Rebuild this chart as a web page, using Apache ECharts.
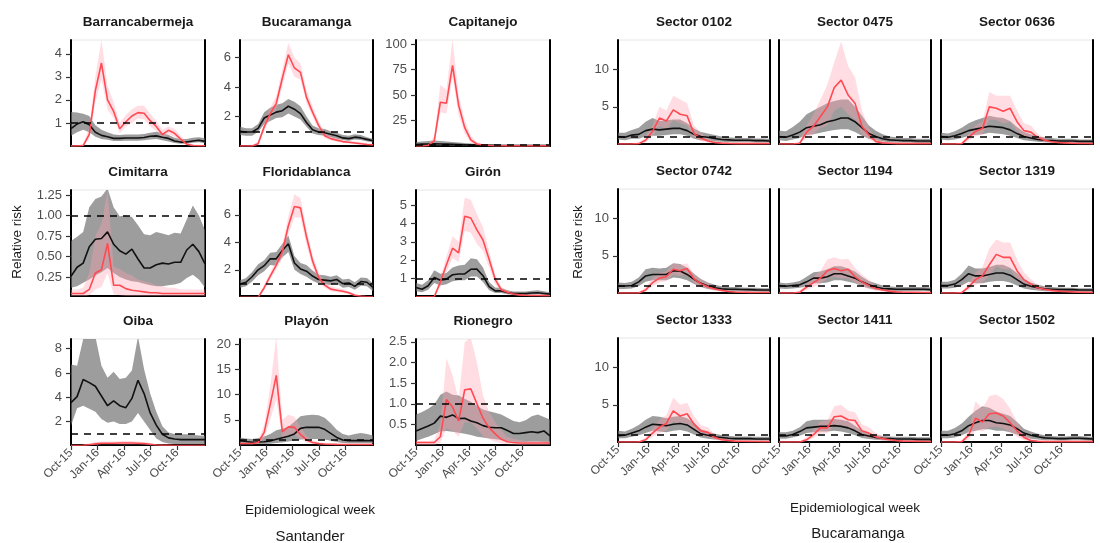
<!DOCTYPE html>
<html>
<head>
<meta charset="utf-8">
<script src="https://cdn.jsdelivr.net/npm/echarts/dist/echarts.min.js"></script>
<style>
    html, body { margin: 0; padding: 0; background: #fff; }
    #chart { width: 1100px; height: 543px; }
</style>
</head>
<body>
<div id="chart"></div>
<script>
// weeks since 1 Oct 2015, one value every 3 weeks
const weeks = [0, 3, 6, 9, 12, 15, 18, 21, 24, 27, 30, 33, 36, 39, 42, 45, 48, 51, 54, 57, 60, 63, 66];
const quarterWeeks = [0, 13.14, 26.14, 39.14, 52.29];
const quarterLabels = ['Oct-15', 'Jan-16', 'Apr-16', 'Jul-16', 'Oct-16'];

/** Santander */
const barBlack = [0.75,0.95,1.05,0.92,0.6,0.46,0.4,0.33,0.33,0.35,0.35,0.35,0.37,0.42,0.44,0.38,0.33,0.22,0.17,0.17,0.22,0.25,0.2];
const barBlackHi = [1.48,1.45,1.4,1.3,0.9,0.7,0.6,0.5,0.48,0.5,0.5,0.5,0.52,0.58,0.62,0.56,0.48,0.36,0.3,0.3,0.36,0.38,0.34];
const barBlackLo = [0.45,0.6,0.7,0.6,0.4,0.3,0.27,0.22,0.22,0.23,0.23,0.23,0.25,0.28,0.3,0.25,0.2,0.13,0.1,0.1,0.14,0.16,0.12];
const barRed = [0,0,0.02,0.5,2.4,3.6,2.0,1.5,0.75,1.05,1.3,1.45,1.42,1.1,0.85,0.5,0.68,0.55,0.3,0.08,0.02,0.01,0.01];
const barRedHi = [0.02,0.02,0.1,0.8,3.0,4.6,2.6,1.9,1.0,1.35,1.6,1.75,1.75,1.4,1.1,0.7,0.85,0.75,0.45,0.18,0.08,0.05,0.04];
const barRedLo = [0,0,0,0.3,1.9,2.9,1.6,1.2,0.55,0.85,1.0,1.2,1.15,0.85,0.65,0.35,0.5,0.4,0.2,0.04,0.01,0,0];

const bucBlack = [1.0,0.95,0.95,1.2,1.9,2.1,2.3,2.4,2.7,2.5,2.2,1.6,1.1,0.95,0.9,0.8,0.7,0.55,0.5,0.6,0.55,0.45,0.35];
const bucBlackHi = [1.3,1.2,1.2,1.5,2.3,2.6,2.8,2.9,3.2,3.0,2.7,2.0,1.4,1.2,1.15,1.0,0.9,0.75,0.7,0.8,0.75,0.6,0.5];
const bucBlackLo = [0.75,0.7,0.7,0.95,1.5,1.7,1.9,1.95,2.2,2.0,1.8,1.3,0.85,0.75,0.7,0.6,0.5,0.4,0.35,0.45,0.4,0.3,0.25];
const bucRed = [0,0,0,0.15,1.3,2.2,2.9,4.6,6.2,5.3,5.0,3.3,2.3,1.4,0.7,0.5,0.4,0.3,0.25,0.2,0.15,0.1,0.08];
const bucRedHi = [0,0,0.05,0.3,1.6,2.6,3.4,5.2,7.0,6.0,5.6,3.8,2.7,1.7,0.9,0.65,0.55,0.4,0.35,0.3,0.25,0.2,0.15];
const bucRedLo = [0,0,0,0.05,1.0,1.9,2.5,4.0,5.6,4.7,4.5,2.9,2.0,1.1,0.55,0.38,0.3,0.2,0.17,0.12,0.1,0.06,0.05];

const capBlack = [1.5,1.8,2.0,2.2,2.0,1.8,1.6,1.4,1.2,1.0,0.9,0.8,0.7,0.6,0.5,0.5,0.5,0.5,0.5,0.5,0.5,0.5,0.5];
const capBlackHi = [4,4.5,5,5.5,5,4.5,4,3.5,3,2.5,2,1.8,1.6,1.4,1.2,1.2,1.2,1.2,1.2,1.2,1.2,1.2,1.2];
const capBlackLo = [0.3,0.4,0.5,0.5,0.5,0.4,0.3,0.3,0.2,0.2,0.2,0.1,0.1,0.1,0.1,0.1,0.1,0.1,0.1,0.1,0.1,0.1,0.1];
const capRed = [0,0,0.5,5,43,42,79,40,18,6,2,1,0.5,0.3,0.2,0.1,0.1,0.1,0.1,0.1,0.1,0.1,0.1];
const capRedHi = [0,0,1,10,60,55,105,50,25,10,4,2,1,0.6,0.4,0.3,0.3,0.2,0.2,0.2,0.2,0.2,0.2];
const capRedLo = [0,0,0.1,2,33,32,68,30,12,3,1,0.4,0.2,0.1,0.05,0.05,0,0,0,0,0,0,0];

const cimBlack = [0.26,0.37,0.42,0.62,0.71,0.72,0.8,0.65,0.57,0.53,0.59,0.47,0.36,0.36,0.4,0.42,0.41,0.43,0.43,0.58,0.65,0.56,0.41];
const cimBlackHi = [0.69,0.74,0.8,1.1,1.2,1.23,1.33,1.1,0.99,1.0,0.98,0.88,0.77,0.76,0.8,0.78,0.76,0.79,0.78,0.95,1.12,1.0,0.82];
const cimBlackLo = [0.12,0.14,0.18,0.22,0.27,0.31,0.36,0.3,0.25,0.22,0.2,0.19,0.17,0.15,0.14,0.14,0.15,0.16,0.18,0.24,0.28,0.22,0.12];
const cimRed = [0.05,0.05,0.05,0.1,0.3,0.34,0.66,0.15,0.15,0.11,0.09,0.08,0.07,0.06,0.06,0.05,0.05,0.05,0.05,0.05,0.05,0.05,0.05];
const cimRedHi = [0.1,0.1,0.12,0.3,0.75,0.9,1.3,0.38,0.35,0.3,0.27,0.22,0.2,0.18,0.15,0.14,0.12,0.12,0.1,0.1,0.1,0.1,0.1];
const cimRedLo = [0.01,0.01,0.01,0.03,0.1,0.13,0.3,0.04,0.03,0.02,0.02,0.01,0.01,0.01,0.01,0.01,0.01,0.01,0.01,0.01,0.01,0.01,0.01];

const floBlack = [0.97,1.1,1.5,2.0,2.3,2.8,2.8,3.4,3.9,2.5,2.07,1.9,1.55,1.3,1.25,1.2,1.3,1.0,1.05,0.8,1.15,1.1,0.72];
const floBlackHi = [1.25,1.4,1.85,2.4,2.7,3.25,3.3,3.9,4.5,3.0,2.5,2.35,1.95,1.65,1.6,1.5,1.6,1.3,1.35,1.1,1.45,1.4,1.0];
const floBlackLo = [0.7,0.8,1.15,1.6,1.9,2.35,2.3,2.9,3.3,2.0,1.7,1.5,1.2,1.0,0.95,0.9,1.0,0.7,0.75,0.55,0.85,0.8,0.45];
const floRed = [0,0,0,0,0.7,1.55,2.35,3.3,5.2,6.6,6.5,4.4,2.65,1.45,0.9,0.6,0.52,0.45,0.33,0.16,0.08,0.05,0.04];
const floRedHi = [0,0,0,0.05,0.9,1.8,2.7,3.8,5.9,7.5,7.2,5.0,3.1,1.8,1.15,0.8,0.7,0.6,0.45,0.25,0.15,0.1,0.08];
const floRedLo = [0,0,0,0,0.5,1.3,2.0,2.8,4.6,5.8,5.8,3.8,2.2,1.15,0.7,0.45,0.38,0.32,0.22,0.1,0.04,0.02,0.02];

const girBlack = [0.5,0.41,0.6,1.05,0.9,0.96,1.2,1.24,1.25,1.5,1.51,1.15,0.55,0.32,0.32,0.23,0.17,0.17,0.17,0.2,0.22,0.18,0.14];
const girBlackHi = [0.75,0.65,0.9,1.45,1.25,1.3,1.6,1.7,1.75,2.1,2.05,1.6,0.8,0.5,0.48,0.36,0.28,0.28,0.28,0.33,0.35,0.3,0.25];
const girBlackLo = [0.3,0.25,0.38,0.75,0.62,0.68,0.85,0.9,0.9,1.1,1.1,0.8,0.35,0.2,0.2,0.13,0.09,0.09,0.09,0.11,0.13,0.1,0.07];
const girRed = [0,0,0,0,0.8,1.75,2.65,2.4,4.4,4.3,3.65,3.1,2.05,0.95,0.38,0.25,0.15,0.1,0.08,0.07,0.07,0.06,0.05];
const girRedHi = [0,0,0,0.02,1.05,2.2,3.3,3.0,5.4,5.3,4.5,3.8,2.5,1.2,0.55,0.35,0.22,0.16,0.13,0.12,0.12,0.1,0.1];
const girRedLo = [0,0,0,0,0.55,1.35,2.1,1.9,3.6,3.5,2.9,2.5,1.6,0.7,0.25,0.15,0.08,0.05,0.04,0.03,0.03,0.03,0.02];

const oibBlack = [3.55,4.05,5.46,5.2,4.9,4.1,3.3,3.7,3.3,3.14,3.9,5.4,4.3,2.7,1.7,0.95,0.65,0.55,0.5,0.5,0.5,0.5,0.5];
const oibBlackHi = [6.7,6.6,8.8,9.0,9.0,6.6,5.6,6.1,5.5,5.6,6.2,9.0,6.3,4.3,2.8,1.6,1.1,0.96,0.95,0.95,0.9,0.85,0.83];
const oibBlackLo = [1.65,3.1,3.3,3.05,2.8,2.2,1.9,2.0,1.8,1.8,2.0,2.7,2.0,1.3,0.6,0.3,0.18,0.15,0.15,0.15,0.15,0.15,0.15];
const oibRed = [0.02,0.02,0.03,0.08,0.15,0.2,0.2,0.2,0.22,0.22,0.22,0.2,0.18,0.12,0.06,0.04,0.03,0.02,0.02,0.02,0.02,0.02,0.02];
const oibRedHi = [0.05,0.05,0.08,0.2,0.3,0.35,0.35,0.35,0.38,0.38,0.38,0.35,0.3,0.22,0.12,0.08,0.06,0.05,0.05,0.05,0.05,0.05,0.05];
const oibRedLo = [0,0,0,0.02,0.06,0.1,0.1,0.1,0.1,0.1,0.1,0.1,0.08,0.05,0.02,0.01,0,0,0,0,0,0,0];

const plaBlack = [0.87,0.7,0.55,0.6,0.65,0.8,1.15,1.45,1.75,2.2,3.3,3.5,3.5,3.5,3.1,2.3,1.5,1.0,0.87,0.87,0.87,0.87,0.85];
const plaBlackHi = [1.5,1.3,1.2,1.4,1.7,2.2,2.9,3.2,3.6,4.6,5.7,5.9,6.0,5.9,5.4,4.3,3.0,2.2,1.9,2.2,2.4,2.2,1.9];
const plaBlackLo = [0.4,0.3,0.25,0.2,0.2,0.25,0.4,0.5,0.7,0.9,1.1,1.2,1.2,1.2,1.1,0.85,0.6,0.4,0.35,0.35,0.35,0.35,0.35];
const plaRed = [0.3,0.3,0.3,0.5,2.5,8.0,13.8,2.6,3.6,3.5,2.1,1.0,0.5,0.3,0.2,0.15,0.12,0.1,0.1,0.1,0.1,0.1,0.1];
const plaRedHi = [0.5,0.5,0.5,0.9,4.0,11.5,21.5,5.0,6.0,5.6,3.6,1.8,0.9,0.6,0.4,0.3,0.25,0.2,0.2,0.2,0.2,0.2,0.2];
const plaRedLo = [0.1,0.1,0.1,0.2,1.3,5.0,9.0,1.4,2.1,2.0,1.2,0.5,0.25,0.12,0.08,0.06,0.05,0.04,0.04,0.04,0.04,0.04,0.04];

const rioBlack = [0.34,0.4,0.46,0.53,0.7,0.67,0.73,0.64,0.65,0.58,0.54,0.47,0.43,0.42,0.42,0.35,0.28,0.28,0.3,0.32,0.3,0.34,0.22];
const rioBlackHi = [0.74,0.8,0.88,0.98,1.22,1.3,1.22,1.2,1.12,1.05,0.95,0.86,0.82,0.78,0.74,0.66,0.58,0.55,0.6,0.7,0.74,0.68,0.62];
const rioBlackLo = [0.1,0.15,0.2,0.26,0.33,0.34,0.32,0.3,0.27,0.24,0.2,0.18,0.16,0.14,0.12,0.1,0.08,0.07,0.07,0.08,0.08,0.07,0.05];
const rioRed = [0.06,0.06,0.06,0.06,0.2,1.1,0.92,0.58,1.34,1.36,1.0,0.65,0.42,0.27,0.14,0.08,0.06,0.05,0.05,0.05,0.05,0.05,0.05];
const rioRedHi = [0.1,0.1,0.1,0.12,0.5,2.1,1.7,1.1,2.5,2.6,2.0,1.2,0.8,0.55,0.35,0.2,0.15,0.12,0.1,0.1,0.1,0.1,0.1];
const rioRedLo = [0,0,0,0,0.05,0.4,0.35,0.2,0.55,0.55,0.4,0.22,0.14,0.08,0.04,0.02,0.01,0,0,0,0,0,0];

/** Bucaramanga sectors */
const s0102Black = [1.0,0.9,1.2,1.3,1.8,2.0,1.9,2.0,2.1,2.1,1.8,1.3,1.0,0.9,0.75,0.6,0.55,0.5,0.5,0.5,0.45,0.45,0.4];
const s0102BlackHi = [1.5,1.5,1.9,2.2,3.0,3.5,3.1,3.2,3.3,3.3,2.8,2.1,1.6,1.4,1.2,1.0,0.9,0.85,0.8,0.8,0.75,0.75,0.7];
const s0102BlackLo = [0.6,0.5,0.7,0.7,1.0,1.1,1.1,1.2,1.3,1.3,1.1,0.7,0.5,0.45,0.35,0.3,0.25,0.25,0.25,0.25,0.2,0.2,0.2];
const s0102Red = [0,0,0,0.05,0.5,1.7,3.5,3.1,4.6,4.0,3.8,1.4,0.8,0.4,0.2,0.12,0.08,0.05,0.05,0.05,0.05,0.05,0.05];
const s0102RedHi = [0,0,0,0.15,1.0,2.5,5.0,4.5,6.5,6.0,5.5,2.5,1.5,0.8,0.4,0.25,0.15,0.1,0.1,0.1,0.1,0.1,0.1];
const s0102RedLo = [0,0,0,0,0.2,1.0,2.4,2.0,3.2,2.8,2.5,0.8,0.4,0.2,0.1,0.05,0.03,0.02,0.02,0.02,0.02,0.02,0.02];

const s0475Black = [1.0,0.9,1.2,1.6,2.2,2.4,2.6,3.0,3.2,3.5,3.5,3.0,2.2,1.4,1.0,0.7,0.55,0.5,0.45,0.45,0.4,0.4,0.4];
const s0475BlackHi = [1.8,1.7,2.3,3.0,4.0,4.5,5.0,5.5,5.8,6.0,6.0,5.0,3.8,2.5,1.8,1.3,1.0,0.9,0.8,0.8,0.7,0.7,0.7];
const s0475BlackLo = [0.5,0.4,0.6,0.8,1.2,1.3,1.5,1.7,1.9,2.0,2.0,1.6,1.1,0.7,0.5,0.35,0.25,0.2,0.2,0.2,0.15,0.15,0.15];
const s0475Red = [0,0,0,0.1,1.6,2.4,3.7,5.0,7.6,8.6,6.6,5.5,2.4,1.2,0.35,0.15,0.1,0.05,0.05,0.05,0.05,0.05,0.05];
const s0475RedHi = [0,0,0,0.3,2.5,4.0,6.0,8.0,11.0,13.8,10.5,9.0,4.5,2.2,0.8,0.4,0.25,0.15,0.1,0.1,0.1,0.1,0.1];
const s0475RedLo = [0,0,0,0.02,0.8,1.3,2.2,2.5,4.5,5.0,4.0,3.3,1.3,0.6,0.15,0.05,0.03,0.02,0.02,0.02,0.02,0.02,0.02];

const s0636Black = [1.0,0.9,1.1,1.4,1.8,2.0,2.2,2.4,2.3,2.2,1.9,1.4,1.0,0.8,0.6,0.5,0.45,0.4,0.4,0.4,0.35,0.35,0.35];
const s0636BlackHi = [1.5,1.4,1.7,2.2,2.8,3.2,3.5,3.8,3.6,3.5,3.1,2.3,1.6,1.3,1.0,0.9,0.8,0.7,0.7,0.7,0.6,0.6,0.6];
const s0636BlackLo = [0.6,0.5,0.6,0.8,1.1,1.2,1.3,1.5,1.4,1.3,1.1,0.8,0.5,0.4,0.3,0.25,0.2,0.2,0.2,0.2,0.15,0.15,0.15];
const s0636Red = [0,0,0,0.05,0.9,1.7,2.1,5.0,4.8,4.4,4.8,3.0,1.8,1.6,0.9,0.5,0.3,0.2,0.15,0.1,0.08,0.06,0.05];
const s0636RedHi = [0,0,0,0.15,1.4,2.5,3.0,7.0,6.5,6.5,6.5,4.5,2.8,2.5,1.4,0.8,0.5,0.35,0.25,0.2,0.15,0.12,0.1];
const s0636RedLo = [0,0,0,0,0.4,1.0,1.3,3.3,3.2,2.8,3.0,1.8,1.0,0.9,0.5,0.25,0.15,0.1,0.05,0.04,0.03,0.02,0.02];

const s0742Black = [0.94,0.94,1.0,1.5,2.3,2.5,2.5,2.5,3.0,2.95,2.5,1.85,1.3,0.95,0.7,0.55,0.5,0.5,0.48,0.45,0.42,0.4,0.4];
const s0742BlackHi = [1.4,1.35,1.5,2.1,3.2,3.4,3.3,3.4,4.0,3.9,3.4,2.6,1.9,1.4,1.1,0.9,0.8,0.8,0.75,0.7,0.7,0.65,0.65];
const s0742BlackLo = [0.55,0.55,0.6,0.95,1.5,1.7,1.7,1.7,2.1,2.0,1.7,1.2,0.8,0.55,0.4,0.3,0.25,0.25,0.22,0.2,0.2,0.18,0.18];
const s0742Red = [0,0,0,0,0.4,1.4,2.0,2.2,3.2,3.0,3.3,1.9,1.25,0.85,0.55,0.35,0.2,0.13,0.1,0.08,0.07,0.06,0.06];
const s0742RedHi = [0,0,0,0.05,0.8,2.0,2.7,2.9,4.0,3.8,4.0,2.6,1.8,1.3,0.9,0.6,0.4,0.25,0.2,0.15,0.12,0.1,0.1];
const s0742RedLo = [0,0,0,0,0.15,0.9,1.4,1.6,2.5,2.3,2.6,1.3,0.8,0.5,0.3,0.2,0.1,0.06,0.04,0.03,0.03,0.02,0.02];

const s1194Black = [1.0,0.9,1.0,1.1,1.5,2.0,2.0,2.2,2.6,2.6,2.3,2.0,1.5,1.1,0.8,0.6,0.55,0.5,0.5,0.5,0.5,0.5,0.45];
const s1194BlackHi = [1.4,1.3,1.4,1.6,2.2,2.8,2.9,3.2,3.6,3.6,3.3,2.9,2.2,1.6,1.3,1.0,0.9,0.8,0.8,0.8,0.8,0.8,0.75];
const s1194BlackLo = [0.6,0.55,0.6,0.7,0.9,1.3,1.3,1.4,1.7,1.7,1.5,1.3,0.9,0.65,0.45,0.35,0.3,0.28,0.28,0.28,0.28,0.28,0.25];
const s1194Red = [0,0,0,0.1,0.8,1.4,2.0,3.0,3.3,3.0,3.2,2.2,1.5,1.0,0.6,0.4,0.25,0.15,0.1,0.1,0.08,0.06,0.05];
const s1194RedHi = [0,0,0,0.3,1.3,2.2,3.0,4.5,4.8,4.5,4.6,3.4,2.5,1.8,1.0,0.7,0.45,0.3,0.2,0.2,0.15,0.12,0.1];
const s1194RedLo = [0,0,0,0.02,0.4,0.8,1.2,2.0,2.2,2.0,2.0,1.4,0.9,0.5,0.3,0.2,0.1,0.06,0.04,0.04,0.03,0.02,0.02];

const s1319Black = [1.0,1.0,1.2,1.8,2.6,2.3,2.3,2.5,2.7,2.7,2.4,1.8,1.2,0.9,0.7,0.55,0.5,0.45,0.45,0.45,0.4,0.4,0.4];
const s1319BlackHi = [1.5,1.5,1.8,2.6,3.7,3.3,3.3,3.5,3.8,3.8,3.4,2.7,1.9,1.4,1.1,0.9,0.8,0.75,0.7,0.7,0.65,0.65,0.65];
const s1319BlackLo = [0.6,0.6,0.7,1.0,1.5,1.3,1.3,1.5,1.6,1.6,1.4,1.0,0.6,0.45,0.35,0.25,0.22,0.2,0.2,0.2,0.18,0.18,0.18];
const s1319Red = [0,0,0,0.05,0.8,1.8,2.3,3.8,5.2,4.8,4.8,3.0,1.8,1.2,0.7,0.5,0.35,0.25,0.2,0.15,0.1,0.08,0.06];
const s1319RedHi = [0,0,0,0.15,1.3,2.8,3.5,6.0,7.2,6.8,6.8,4.5,2.8,1.9,1.1,0.8,0.6,0.45,0.35,0.25,0.2,0.15,0.12];
const s1319RedLo = [0,0,0,0,0.4,1.1,1.4,2.4,3.6,3.2,3.2,1.9,1.0,0.7,0.35,0.25,0.15,0.1,0.08,0.06,0.04,0.03,0.02];

const s1333Black = [0.85,0.9,1.2,1.5,2.0,2.4,2.3,2.2,2.4,2.5,2.3,1.7,1.1,0.9,0.7,0.6,0.5,0.45,0.45,0.45,0.4,0.4,0.4];
const s1333BlackHi = [1.5,1.4,1.8,2.3,3.0,3.5,3.4,3.2,3.4,3.5,3.2,2.6,1.7,1.4,1.1,0.95,0.85,0.75,0.75,0.75,0.7,0.7,0.7];
const s1333BlackLo = [0.5,0.5,0.7,0.9,1.2,1.5,1.4,1.3,1.5,1.6,1.4,1.0,0.6,0.45,0.35,0.3,0.25,0.22,0.22,0.22,0.2,0.2,0.2];
const s1333Red = [0,0,0,0,0.3,1.2,2.0,2.5,4.2,3.5,3.8,2.4,1.5,1.3,0.6,0.3,0.2,0.12,0.1,0.08,0.06,0.05,0.05];
const s1333RedHi = [0,0,0,0.02,0.6,1.9,3.0,3.6,6.0,5.0,5.3,3.5,2.3,2.0,1.0,0.6,0.4,0.25,0.2,0.15,0.12,0.1,0.1];
const s1333RedLo = [0,0,0,0,0.1,0.7,1.2,1.5,2.8,2.3,2.5,1.5,0.9,0.7,0.3,0.15,0.08,0.05,0.04,0.03,0.02,0.02,0.02];

const s1411Black = [0.8,0.8,1.0,1.4,1.9,2.0,2.1,2.1,2.2,2.1,1.9,1.5,1.0,0.8,0.6,0.5,0.45,0.4,0.4,0.4,0.35,0.35,0.35];
const s1411BlackHi = [1.3,1.3,1.5,2.0,2.8,3.0,3.0,3.0,3.1,3.0,2.8,2.2,1.5,1.2,0.95,0.8,0.75,0.7,0.7,0.7,0.65,0.65,0.65];
const s1411BlackLo = [0.45,0.45,0.6,0.85,1.2,1.3,1.4,1.4,1.5,1.4,1.2,0.9,0.55,0.4,0.3,0.25,0.2,0.18,0.18,0.18,0.15,0.15,0.15];
const s1411Red = [0,0,0,0,0.3,1.0,1.9,1.9,3.4,3.5,3.0,2.9,1.5,1.2,0.7,0.45,0.3,0.2,0.12,0.1,0.08,0.06,0.05];
const s1411RedHi = [0,0,0,0.02,0.7,1.6,2.8,2.9,4.8,5.0,4.2,4.0,2.4,2.0,1.2,0.8,0.5,0.35,0.25,0.2,0.15,0.12,0.1];
const s1411RedLo = [0,0,0,0,0.1,0.5,1.1,1.2,2.2,2.3,1.9,1.8,0.8,0.6,0.35,0.2,0.12,0.08,0.05,0.04,0.03,0.02,0.02];

const s1502Black = [0.9,0.9,1.1,1.5,2.2,2.6,2.9,2.9,2.6,2.5,2.3,1.8,1.2,0.9,0.7,0.55,0.5,0.45,0.45,0.5,0.5,0.45,0.4];
const s1502BlackHi = [1.5,1.5,1.9,2.5,3.4,4.2,4.8,4.6,4.1,3.8,3.5,2.7,1.8,1.4,1.1,0.9,0.8,0.75,0.75,0.8,0.8,0.75,0.7];
const s1502BlackLo = [0.5,0.5,0.6,0.9,1.3,1.5,1.7,1.7,1.5,1.5,1.3,1.0,0.6,0.45,0.35,0.25,0.22,0.2,0.2,0.22,0.22,0.2,0.18];
const s1502Red = [0,0,0,0.05,0.9,3.2,2.7,3.8,3.9,3.5,2.6,1.5,0.6,0.2,0.1,0.05,0.05,0.05,0.05,0.05,0.05,0.05,0.05];
const s1502RedHi = [0,0,0,0.15,1.6,5.5,4.5,6.2,6.4,5.8,4.5,2.7,1.2,0.45,0.25,0.15,0.1,0.1,0.1,0.1,0.1,0.1,0.1];
const s1502RedLo = [0,0,0,0,0.3,1.6,1.4,2.0,2.1,1.8,1.3,0.7,0.25,0.08,0.03,0.02,0.02,0.02,0.02,0.02,0.02,0.02,0.02];

const santanderTicks = {
    bar: [1, 2, 3, 4], buc: [2, 4, 6], cap: [25, 50, 75, 100],
    cim: [0.25, 0.5, 0.75, 1.0, 1.25], flo: [2, 4, 6], gir: [1, 2, 3, 4, 5],
    oib: [2, 4, 6, 8], pla: [5, 10, 15, 20], rio: [0.5, 1.0, 1.5, 2.0, 2.5]
};
const sectorTicks = [5, 10];

// layout of the two blocks of panels
const leftCols = [[71, 134], [240, 133], [416, 134]];
const leftRows = [40, 190, 339];
const leftH = 106;
const rightCols = [[618, 152], [779, 152], [941, 152]];
const rightRows = [40, 189, 338];
const rightH = 104;

const panels = [
    {title: 'Barrancabermeja', side: 'L', row: 0, col: 0, yMin: 0, yMax: 4.6, ticks: santanderTicks.bar, dec: 0, black: barBlack, blackLo: barBlackLo, blackHi: barBlackHi, red: barRed, redLo: barRedLo, redHi: barRedHi},
    {title: 'Bucaramanga', side: 'L', row: 0, col: 1, yMin: 0, yMax: 7.2, ticks: santanderTicks.buc, dec: 0, black: bucBlack, blackLo: bucBlackLo, blackHi: bucBlackHi, red: bucRed, redLo: bucRedLo, redHi: bucRedHi},
    {title: 'Capitanejo', side: 'L', row: 0, col: 2, yMin: 0, yMax: 104, ticks: santanderTicks.cap, dec: 0, black: capBlack, blackLo: capBlackLo, blackHi: capBlackHi, red: capRed, redLo: capRedLo, redHi: capRedHi},
    {title: 'Cimitarra', side: 'L', row: 1, col: 0, yMin: 0.02, yMax: 1.31, ticks: santanderTicks.cim, dec: 2, black: cimBlack, blackLo: cimBlackLo, blackHi: cimBlackHi, red: cimRed, redLo: cimRedLo, redHi: cimRedHi},
    {title: 'Floridablanca', side: 'L', row: 1, col: 1, yMin: 0.1, yMax: 7.8, ticks: santanderTicks.flo, dec: 0, black: floBlack, blackLo: floBlackLo, blackHi: floBlackHi, red: floRed, redLo: floRedLo, redHi: floRedHi},
    {title: 'Girón', side: 'L', row: 1, col: 2, yMin: 0.04, yMax: 5.83, ticks: santanderTicks.gir, dec: 0, black: girBlack, blackLo: girBlackLo, blackHi: girBlackHi, red: girRed, redLo: girRedLo, redHi: girRedHi},
    {title: 'Oiba', side: 'L', row: 2, col: 0, yMin: 0.06, yMax: 8.8, ticks: santanderTicks.oib, dec: 0, black: oibBlack, blackLo: oibBlackLo, blackHi: oibBlackHi, red: oibRed, redLo: oibRedLo, redHi: oibRedHi},
    {title: 'Playón', side: 'L', row: 2, col: 1, yMin: 0, yMax: 21, ticks: santanderTicks.pla, dec: 0, black: plaBlack, blackLo: plaBlackLo, blackHi: plaBlackHi, red: plaRed, redLo: plaRedLo, redHi: plaRedHi},
    {title: 'Rionegro', side: 'L', row: 2, col: 2, yMin: 0, yMax: 2.57, ticks: santanderTicks.rio, dec: 1, black: rioBlack, blackLo: rioBlackLo, blackHi: rioBlackHi, red: rioRed, redLo: rioRedLo, redHi: rioRedHi},
    {title: 'Sector 0102', side: 'R', row: 0, col: 0, black: s0102Black, blackLo: s0102BlackLo, blackHi: s0102BlackHi, red: s0102Red, redLo: s0102RedLo, redHi: s0102RedHi},
    {title: 'Sector 0475', side: 'R', row: 0, col: 1, black: s0475Black, blackLo: s0475BlackLo, blackHi: s0475BlackHi, red: s0475Red, redLo: s0475RedLo, redHi: s0475RedHi},
    {title: 'Sector 0636', side: 'R', row: 0, col: 2, black: s0636Black, blackLo: s0636BlackLo, blackHi: s0636BlackHi, red: s0636Red, redLo: s0636RedLo, redHi: s0636RedHi},
    {title: 'Sector 0742', side: 'R', row: 1, col: 0, black: s0742Black, blackLo: s0742BlackLo, blackHi: s0742BlackHi, red: s0742Red, redLo: s0742RedLo, redHi: s0742RedHi},
    {title: 'Sector 1194', side: 'R', row: 1, col: 1, black: s1194Black, blackLo: s1194BlackLo, blackHi: s1194BlackHi, red: s1194Red, redLo: s1194RedLo, redHi: s1194RedHi},
    {title: 'Sector 1319', side: 'R', row: 1, col: 2, black: s1319Black, blackLo: s1319BlackLo, blackHi: s1319BlackHi, red: s1319Red, redLo: s1319RedLo, redHi: s1319RedHi},
    {title: 'Sector 1333', side: 'R', row: 2, col: 0, black: s1333Black, blackLo: s1333BlackLo, blackHi: s1333BlackHi, red: s1333Red, redLo: s1333RedLo, redHi: s1333RedHi},
    {title: 'Sector 1411', side: 'R', row: 2, col: 1, black: s1411Black, blackLo: s1411BlackLo, blackHi: s1411BlackHi, red: s1411Red, redLo: s1411RedLo, redHi: s1411RedHi},
    {title: 'Sector 1502', side: 'R', row: 2, col: 2, black: s1502Black, blackLo: s1502BlackLo, blackHi: s1502BlackHi, red: s1502Red, redLo: s1502RedLo, redHi: s1502RedHi}
];

const FONT = '"Liberation Sans", Arial, sans-serif';
const GRAY_BAND = 'rgba(110,110,110,0.68)';
const PINK_BAND = 'rgba(255,160,178,0.36)';
const RED = '#ff4a52';

function pairs(ys) {
    return weeks.map((w, i) => [w, ys[i]]);
}
function quarterLabel(v) {
    for (let k = 0; k < quarterWeeks.length; k++) {
        if (Math.abs(quarterWeeks[k] - v) < 0.01) return quarterLabels[k];
    }
    return '';
}
/** ribbon between lo and hi, drawn as one polygon through the axes */
function bandSeries(i, lo, hi, color) {
    return {
        type: 'custom', xAxisIndex: i, yAxisIndex: 2 * i, silent: true, clip: true, animation: false,
        data: weeks.map((w, k) => [w, lo[k], hi[k]]),
        encode: {x: 0, y: [1, 2]},
        renderItem: (params, api) => {
            if (params.dataIndex !== 0) return null;
            let upper = weeks.map((w, k) => api.coord([w, hi[k]]));
            let lower = weeks.map((w, k) => api.coord([w, lo[k]])).reverse();
            return {type: 'polygon', shape: {points: upper.concat(lower)}, style: {fill: color}};
        }
    };
}

let grids = [], xAxes = [], yAxes = [], series = [], texts = [];

panels.forEach((p, i) => {
    let left = p.side === 'L';
    let col = left ? leftCols[p.col] : rightCols[p.col];
    let top = left ? leftRows[p.row] : rightRows[p.row];
    let h = left ? leftH : rightH;
    let yMin = left ? p.yMin : 0;
    let yMax = left ? p.yMax : 14;
    let ticks = left ? p.ticks : sectorTicks;
    let showY = left || p.col === 0;
    let showX = p.row === 2;

    grids.push({left: col[0], top: top, width: col[1], height: h, show: true,
        borderColor: '#e6e6e6', borderWidth: 1, backgroundColor: 'transparent'});

    xAxes.push({
        type: 'value', gridIndex: i, min: 0, max: 66,
        splitLine: {show: false},
        axisLine: {show: true, onZero: false, lineStyle: {color: '#000', width: 2}},
        axisTick: {show: showX, customValues: quarterWeeks, length: 5, lineStyle: {color: '#333', width: 1.2}},
        axisLabel: {show: showX, customValues: quarterWeeks, rotate: 45, margin: 6,
            fontSize: 12, color: '#4d4d4d', fontFamily: FONT, formatter: quarterLabel}
    });

    yAxes.push({
        type: 'value', gridIndex: i, min: yMin, max: yMax,
        splitLine: {show: false},
        axisLine: {show: true, onZero: false, lineStyle: {color: '#000', width: 2}},
        axisTick: {show: showY, customValues: ticks, length: 5, lineStyle: {color: '#333', width: 1.2}},
        axisLabel: {show: showY, customValues: ticks, margin: 9, fontSize: 13, color: '#4d4d4d', fontFamily: FONT,
            formatter: v => v.toFixed(left ? p.dec : 0)}
    });
    // right-hand frame line
    yAxes.push({
        type: 'value', gridIndex: i, min: yMin, max: yMax, position: 'right',
        splitLine: {show: false}, axisTick: {show: false}, axisLabel: {show: false},
        axisLine: {show: true, onZero: false, lineStyle: {color: '#000', width: 2}}
    });

    let base = {type: 'line', xAxisIndex: i, yAxisIndex: 2 * i, symbol: 'none', silent: true, animation: false};
    series.push(bandSeries(i, p.blackLo, p.blackHi, GRAY_BAND));
    series.push(Object.assign({}, base, {data: pairs(p.black), lineStyle: {color: '#111', width: 1.6}}));
    series.push(bandSeries(i, p.redLo, p.redHi, PINK_BAND));
    series.push(Object.assign({}, base, {data: pairs(p.red), lineStyle: {color: RED, width: 1.6},
        markLine: {silent: true, symbol: 'none', animation: false, label: {show: false},
            lineStyle: {color: '#000', width: 1.7, type: [7, 6]}, data: [{yAxis: 1}]}}));

    texts.push({type: 'text', x: col[0] + col[1] / 2, y: top - 18,
        style: {text: p.title, font: 'bold 13.5px ' + FONT, fill: '#1a1a1a', textAlign: 'center', textVerticalAlign: 'middle'}});
});

texts.push(
    {type: 'text', x: 17, y: 242, rotation: Math.PI / 2,
        style: {text: 'Relative risk', font: '13.5px ' + FONT, fill: '#1a1a1a', textAlign: 'center', textVerticalAlign: 'middle'}},
    {type: 'text', x: 578, y: 242, rotation: Math.PI / 2,
        style: {text: 'Relative risk', font: '13.5px ' + FONT, fill: '#1a1a1a', textAlign: 'center', textVerticalAlign: 'middle'}},
    {type: 'text', x: 310, y: 510,
        style: {text: 'Epidemiological week', font: '13.5px ' + FONT, fill: '#1a1a1a', textAlign: 'center', textVerticalAlign: 'middle'}},
    {type: 'text', x: 855, y: 508,
        style: {text: 'Epidemiological week', font: '13.5px ' + FONT, fill: '#1a1a1a', textAlign: 'center', textVerticalAlign: 'middle'}},
    {type: 'text', x: 310, y: 537,
        style: {text: 'Santander', font: '15px ' + FONT, fill: '#1a1a1a', textAlign: 'center', textVerticalAlign: 'middle'}},
    {type: 'text', x: 858, y: 534,
        style: {text: 'Bucaramanga', font: '15px ' + FONT, fill: '#1a1a1a', textAlign: 'center', textVerticalAlign: 'middle'}}
);

let chart = echarts.init(document.getElementById('chart'), null, {renderer: 'canvas'});
chart.setOption({
    animation: false,
    backgroundColor: '#fff',
    textStyle: {fontFamily: FONT},
    grid: grids,
    xAxis: xAxes,
    yAxis: yAxes,
    series: series,
    graphic: {elements: texts}
});
</script>
</body>
</html>
